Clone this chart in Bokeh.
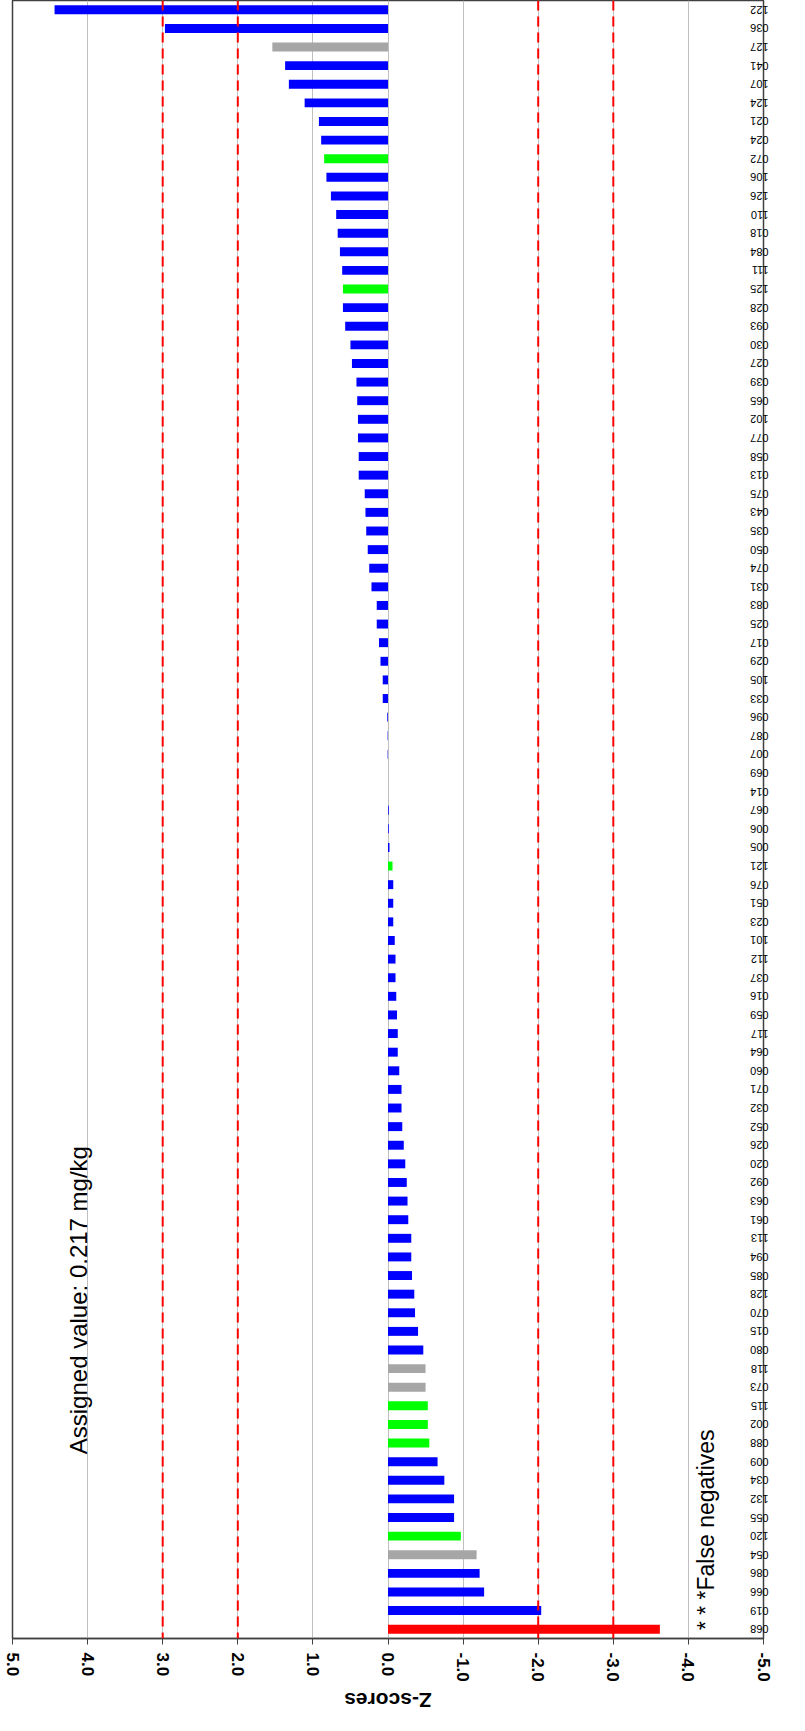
import math
from bokeh.plotting import figure
from bokeh.layouts import column
from bokeh.models import FactorRange, Range1d, FixedTicker, Span, Label, PrintfTickFormatter, ColumnDataSource
from bokeh.core.properties import value
from bokeh.embed import file_html
from bokeh.resources import INLINE

# Lab codes, top to bottom as shown
labs = ["122", "036", "127", "041", "107", "124", "021", "024", "072", "106",
        "126", "110", "018", "084", "111", "125", "028", "093", "030", "027",
        "039", "065", "102", "077", "058", "013", "075", "043", "035", "050",
        "074", "031", "083", "025", "017", "029", "105", "033", "096", "087",
        "007", "069", "014", "067", "006", "005", "121", "076", "051", "023",
        "101", "112", "037", "016", "059", "117", "064", "060", "071", "032",
        "052", "026", "020", "092", "063", "061", "113", "094", "085", "128",
        "070", "015", "080", "118", "073", "115", "002", "088", "009", "034",
        "132", "055", "120", "054", "086", "066", "019", "068"]

zscores = [4.44, 2.97, 1.54, 1.37, 1.32, 1.11, 0.92, 0.89, 0.85, 0.82,
           0.76, 0.69, 0.67, 0.64, 0.61, 0.60, 0.60, 0.57, 0.50, 0.48,
           0.42, 0.41, 0.40, 0.40, 0.39, 0.39, 0.31, 0.30, 0.29, 0.27,
           0.25, 0.22, 0.15, 0.15, 0.12, 0.10, 0.07, 0.07, 0.01, 0.005,
           0.005, 0.0, 0.0, -0.01, -0.01, -0.02, -0.06, -0.07, -0.07, -0.07,
           -0.09, -0.10, -0.10, -0.11, -0.12, -0.13, -0.13, -0.15, -0.18, -0.18,
           -0.19, -0.21, -0.23, -0.25, -0.26, -0.27, -0.31, -0.31, -0.32, -0.35,
           -0.36, -0.40, -0.47, -0.50, -0.50, -0.53, -0.53, -0.55, -0.66, -0.75,
           -0.88, -0.88, -0.97, -1.18, -1.22, -1.28, -2.04, -3.62]

green_labs = ["072", "125", "121", "115", "002", "088", "120"]
grey_labs = ["127", "118", "073", "054"]
false_negative_labs = ["068"]

z_ticks = [5, 4, 3, 2, 1, 0, -1, -2, -3, -4, -5]
limit_lines = [3, 2, -2, -3]
axis_title = "Z-scores"

def colour(lab):
    if lab in false_negative_labs:
        return "#FF0000"
    if lab in green_labs:
        return "#00FF00"
    if lab in grey_labs:
        return "#A6A6A6"
    return "#0000FF"

src = ColumnDataSource(dict(lab=labs, z=zscores, zero=[0] * len(labs),
                            color=[colour(l) for l in labs]))

p = figure(width=789, height=1684,
           y_range=FactorRange(factors=labs[::-1], range_padding=0),
           x_range=Range1d(5, -5),
           y_axis_location="right",
           output_backend="svg", toolbar_location=None,
           min_border_left=12, min_border_right=24, min_border_top=0, min_border_bottom=46)

p.xgrid.ticker = FixedTicker(ticks=z_ticks)
p.xgrid.grid_line_color = "#BFBFBF"
p.xgrid.grid_line_width = 1
p.ygrid.grid_line_color = None

p.hbar(y="lab", left="zero", right="z", height=0.48, fill_color="color",
       line_color=None, source=src)

for v in limit_lines:
    p.add_layout(Span(location=v, dimension="height", line_color="#FF0000",
                      line_width=2, line_dash="10 6"))

p.outline_line_color = "#404040"
p.outline_line_width = 1.5

xa = p.xaxis[0]
xa.ticker = FixedTicker(ticks=z_ticks)
xa.formatter = PrintfTickFormatter(format="%.1f")
xa.major_label_orientation = "vertical"
xa.major_label_text_font = "Liberation Sans"
xa.major_label_text_font_style = "bold"
xa.major_label_text_font_size = "17px"
xa.major_label_text_color = "black"
xa.major_tick_out = 6
xa.major_tick_in = 0
xa.minor_tick_line_color = None
xa.axis_line_color = "#404040"
xa.axis_line_width = 1.5
xa.major_tick_line_color = "#404040"
xa.major_label_standoff = 8

ya = p.yaxis[0]
ya.major_label_orientation = math.pi
ya.major_label_text_font = "Liberation Sans"
ya.major_label_text_font_size = "11px"
ya.major_label_text_color = "black"
ya.major_tick_out = 0
ya.major_tick_in = 0
ya.axis_line_color = None
ya.major_label_standoff = 5

p.add_layout(Label(x=4.12, y=9.9, text="Assigned value:  0.217 mg/kg", angle=math.pi / 2,
                   text_align="left", text_baseline="alphabetic",
                   text_font="Liberation Sans", text_font_size="24px", text_color="black"))

p.add_layout(Label(x=-4.24, y=0.45, text="* * *False negatives", angle=math.pi / 2,
                   text_align="left", text_baseline="alphabetic",
                   text_font="Liberation Sans", text_font_size="23px", text_color="black"))

# strip below the chart holding the (upside-down) axis title
p2 = figure(width=789, height=31, x_range=p.x_range, y_range=Range1d(0, 1),
            output_backend="svg", toolbar_location=None,
            min_border_left=12, min_border_right=24, min_border_top=0, min_border_bottom=0)
p2.axis.visible = False
p2.grid.visible = False
p2.outline_line_color = None
p2.text(x=[0], y=[0.5], text=[axis_title], angle=math.pi,
        text_align="center", text_baseline="middle",
        text_font=value("Liberation Sans"), text_font_style="bold",
        text_font_size="21px", text_color="black")

layout = column(p, p2, spacing=0)
open("out.html", "w").write(file_html(layout, INLINE))
